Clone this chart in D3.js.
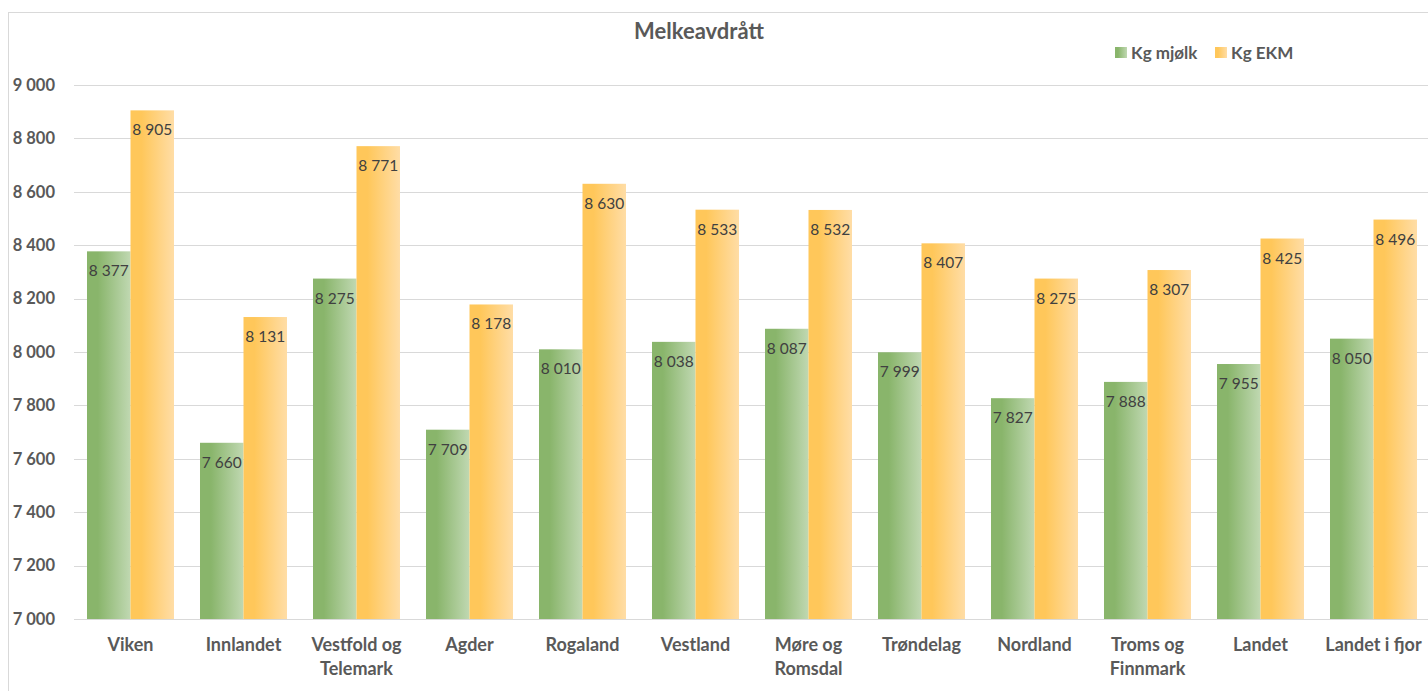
<!DOCTYPE html>
<html>
<head>
<meta charset="utf-8">
<script src="https://cdn.jsdelivr.net/npm/d3@7"></script>
<style>
  body { margin: 0; background: #fff; }
  svg { display: block; font-family: Lato, "Open Sans", sans-serif; }
</style>
</head>
<body>
<div id="root"></div>
<script>
// data
let regions = ["Viken", "Innlandet", "Vestfold og Telemark", "Agder", "Rogaland", "Vestland",
  "Møre og Romsdal", "Trøndelag", "Nordland", "Troms og Finnmark", "Landet", "Landet i fjor"];
let kgMjolk = [8377, 7660, 8275, 7709, 8010, 8038, 8087, 7999, 7827, 7888, 7955, 8050];
let kgEkm = [8905, 8131, 8771, 8178, 8630, 8533, 8532, 8407, 8275, 8307, 8425, 8496];
let yTicks = [7000, 7200, 7400, 7600, 7800, 8000, 8200, 8400, 8600, 8800, 9000];
let seriesNames = ["Kg mjølk", "Kg EKM"];

// size
let W = 1428, H = 691;
let plotL = 74, plotR = 1430, plotT = 85, plotB = 619;

let svg = d3.select('#root').append('svg')
  .attr('width', W).attr('height', H);

let defs = svg.append('defs');
function grad(id, c1, c2) {
  let g = defs.append('linearGradient').attr('id', id)
    .attr('x1', '0%').attr('x2', '100%').attr('y1', '0%').attr('y2', '0%');
  g.append('stop').attr('offset', '0%').attr('stop-color', c1);
  g.append('stop').attr('offset', '25%').attr('stop-color', c1);
  g.append('stop').attr('offset', '100%').attr('stop-color', c2);
}
grad('gGreen', '#89b56b', '#c0d8b2');
grad('gOrange', '#ffc75a', '#ffdda6');
let fills = ['url(#gGreen)', 'url(#gOrange)'];

// chart frame
svg.append('rect')
  .attr('x', 8.5).attr('y', 12.5).attr('width', W + 20).attr('height', H + 20)
  .attr('fill', 'none').attr('stroke', '#d9d9d9').attr('stroke-width', 1);

let x = d3.scaleBand().domain(regions).range([plotL, plotR]).paddingInner(0.23).paddingOuter(0.115);
let xs = d3.scaleBand().domain(seriesNames).range([0, x.bandwidth()]);
let y = d3.scaleLinear().domain([7000, 9000]).range([plotB, plotT]);

// gridlines
svg.append('g').selectAll('line').data(yTicks).enter().append('line')
  .attr('x1', plotL).attr('x2', W)
  .attr('y1', d => Math.round(y(d)) + 0.5).attr('y2', d => Math.round(y(d)) + 0.5)
  .attr('stroke', '#d9d9d9').attr('stroke-width', 1);

// y axis labels
let fmt = d => d3.format(',')(d).replace(/,/g, ' ');
let yAxis = svg.append('g').attr('transform', `translate(55,0)`)
  .call(d3.axisLeft(y).tickValues(yTicks).tickSize(0).tickPadding(0).tickFormat(fmt));
yAxis.select('.domain').remove();
yAxis.selectAll('text')
  .attr('fill', '#595959').style('font-size', '16.5px').style('font-weight', 'bold')
  .style('font-family', 'Lato, sans-serif');

// bars
let series = [kgMjolk, kgEkm];
series.forEach((vals, si) => {
  let g = svg.append('g');
  g.selectAll('rect').data(vals).enter().append('rect')
    .attr('x', (d, i) => x(regions[i]) + xs(seriesNames[si]))
    .attr('width', xs.bandwidth())
    .attr('y', d => y(d))
    .attr('height', d => y(7000) - y(d))
    .attr('fill', fills[si]);
  g.selectAll('text').data(vals).enter().append('text')
    .attr('x', (d, i) => x(regions[i]) + xs(seriesNames[si]) + xs.bandwidth() / 2)
    .attr('y', d => y(d) + 25)
    .attr('text-anchor', 'middle')
    .attr('fill', '#404040')
    .style('font-size', '15.5px')
    .text(fmt);
});

// x labels
let xl = svg.append('g');
regions.forEach(r => {
  let words = r.split(' ');
  let lines = words.length > 2 ? [words.slice(0, 2).join(' '), words.slice(2).join(' ')] : [r];
  if (r === "Landet i fjor") lines = [r];
  let t = xl.append('text')
    .attr('x', x(r) + x.bandwidth() / 2)
    .attr('y', 651)
    .attr('text-anchor', 'middle')
    .attr('fill', '#595959')
    .style('font-size', '18px').style('font-weight', 'bold');
  lines.forEach((l, i) => {
    t.append('tspan').attr('x', x(r) + x.bandwidth() / 2).attr('dy', i === 0 ? 0 : 24).text(l);
  });
});

// title
svg.append('text')
  .attr('x', 699).attr('y', 39)
  .attr('text-anchor', 'middle')
  .attr('fill', '#595959')
  .style('font-size', '22px').style('font-weight', 'bold')
  .text('Melkeavdrått');

// legend
let legX = [1115, 1215];
seriesNames.forEach((s, i) => {
  svg.append('rect').attr('x', legX[i]).attr('y', 47).attr('width', 12).attr('height', 11)
    .attr('fill', fills[i]);
  svg.append('text').attr('x', legX[i] + 16).attr('y', 59)
    .attr('fill', '#595959')
    .style('font-size', '17px').style('font-weight', 'bold')
    .text(s);
});
</script>
</body>
</html>
